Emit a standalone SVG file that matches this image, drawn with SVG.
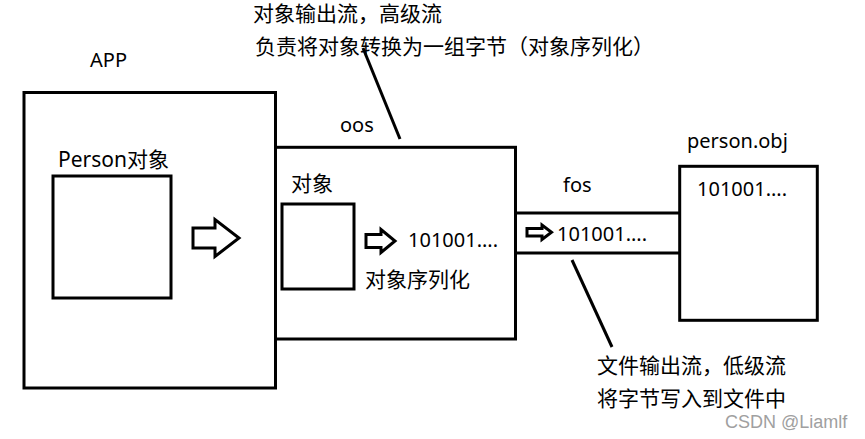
<svg xmlns="http://www.w3.org/2000/svg" width="865" height="439" viewBox="0 0 865 439">
<style>
.box{fill:none;stroke:#000;stroke-width:3}
.ln{stroke:#000;stroke-width:3;fill:none}
.arr{fill:#fff;stroke:#000;stroke-width:3;stroke-linejoin:miter}
.t{font-family:"Noto Sans","Noto Sans CJK SC",sans-serif;font-size:21px;fill:#000}
.l{font-family:"Noto Sans","Noto Sans CJK SC",sans-serif;font-size:20px;fill:#000}
.wm{font-family:"Liberation Sans",Arial,sans-serif;font-size:18px;fill:#a0a0a0}
</style>
<rect width="865" height="439" fill="#fff"/>
<g id="texts-top">
<text class="t" x="253" y="21">对象输出流，高级流</text>
<text class="t" x="255" y="53.5">负责将对象转换为一组字节（对象序列化）</text>
</g>
<g id="app">
<text class="l" x="90" y="67">APP</text>
<rect class="box" x="24" y="92.5" width="251.5" height="295.5"/>
</g>
<g id="person">
<text class="t" x="58" y="167">Person对象</text>
<rect class="box" x="53" y="176" width="118" height="122"/>
</g>
<g id="oos">
<text class="l" x="340" y="132">oos</text>
<rect class="box" x="275.5" y="147.3" width="240" height="191.7"/>
</g>
<g id="object">
<text class="t" x="291" y="191">对象</text>
<rect class="box" x="282" y="204" width="72" height="85"/>
<text class="l" x="408" y="247">101001....</text>
<text class="t" x="365" y="286.5">对象序列化</text>
</g>
<g id="fos">
<text class="l" x="563" y="192">fos</text>
<text class="l" x="557" y="241">101001....</text>
</g>
<g id="personobj">
<text class="l" x="687" y="148">person.obj</text>
<rect class="box" x="679.7" y="166.3" width="137.6" height="154"/>
<text class="l" x="697" y="196">101001....</text>
</g>
<g id="bottom-texts">
<text class="t" x="597" y="372.5">文件输出流，低级流</text>
<text class="t" x="597" y="406">将字节写入到文件中</text>
</g>
<g id="connectors">
<line class="ln" x1="515" y1="213" x2="679.7" y2="213"/>
<line class="ln" x1="515" y1="253" x2="679.7" y2="253"/>
<line class="ln" x1="363" y1="48" x2="400" y2="139"/>
<line class="ln" x1="572" y1="260" x2="612" y2="347"/>
<polygon class="arr" points="193,228 215,228 215,219.5 239,238 215,256.5 215,248 193,248"/>
<polygon class="arr" points="366,234.5 381,234.5 381,229.5 395,241 381,252.5 381,247.5 366,247.5"/>
<polygon class="arr" stroke-width="2.5" points="527,228.5 542,228.5 542,225 551.5,232.3 542,239.5 542,236 527,236"/>
</g>
<text class="wm" x="725" y="428">CSDN @Liamlf</text>
</svg>
